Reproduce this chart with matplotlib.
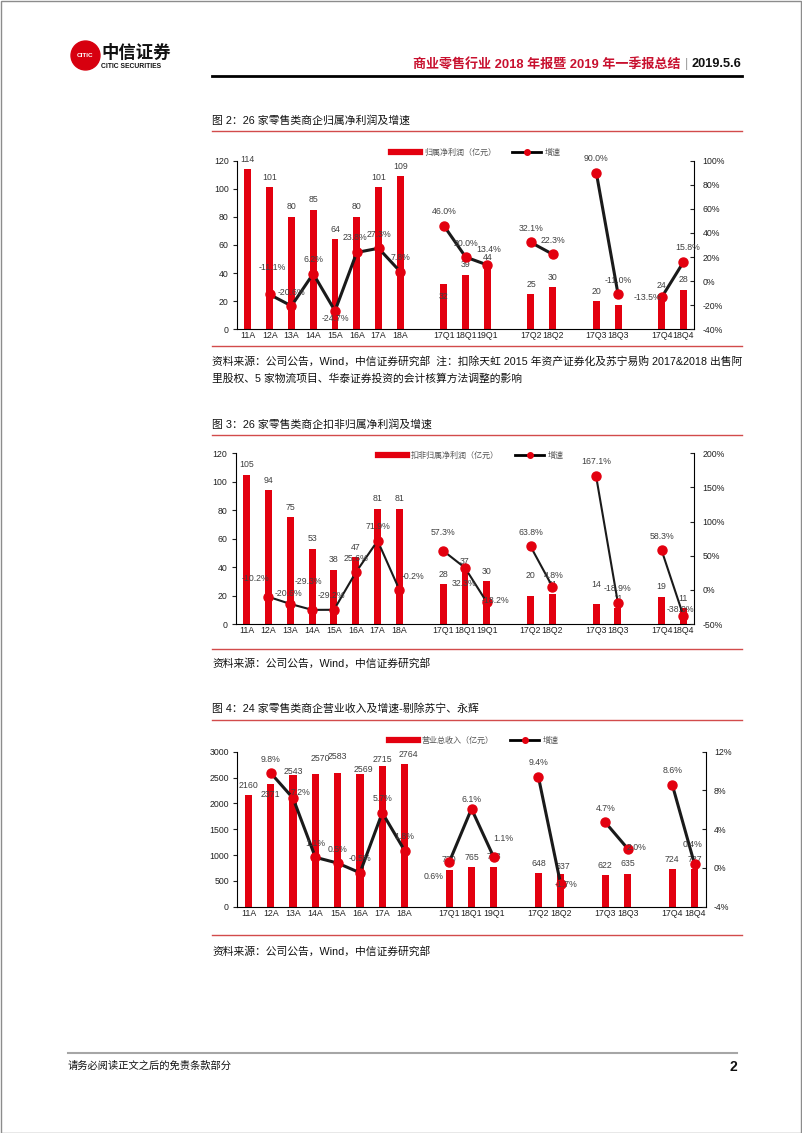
import matplotlib
matplotlib.use('Agg')
import matplotlib.pyplot as plt
import numpy as np
from matplotlib.lines import Line2D
from matplotlib.patches import Circle, Rectangle

plt.rcParams['font.family'] = ['Liberation Sans', 'Noto Sans CJK SC', 'DejaVu Sans']

W, H = 802, 1133
RED = '#E3000F'
LINE_RED = '#D24B4B'
LABEL_C = '#404040'
CJK = ['Noto Sans CJK SC', 'DejaVu Sans']

# ---- data ----
categories = ['11A', '12A', '13A', '14A', '15A', '16A', '17A', '18A',
              '17Q1', '18Q1', '19Q1', '17Q2', '18Q2', '17Q3', '18Q3', '17Q4', '18Q4']

profit = [114, 101, 80, 85, 64, 80, 101, 109, 32, 39, 44, 25, 30, 20, 17, 24, 28]
profit_growth = [np.nan, -11.1, -20.6, 6.2, -24.7, 23.8, 27.3, 7.8,
                 46.0, 20.0, 13.4, 32.1, 22.3, 90.0, -11.0, -13.5, 15.8]

core_profit = [105, 94, 75, 53, 38, 47, 81, 81, 28, 37, 30, 20, 21, 14, 11, 19, 11]
core_growth = [np.nan, -10.2, -20.6, -29.3, -29.2, 25.6, 71.9, -0.2,
               57.3, 32.3, -18.2, 63.8, 4.8, 167.1, -18.9, 58.3, -38.0]

revenue = [2160, 2371, 2543, 2570, 2583, 2569, 2715, 2764, 720, 765, 773, 648, 637, 622, 635, 724, 727]
revenue_growth = [np.nan, 9.8, 7.2, 1.1, 0.5, -0.5, 5.7, 1.8,
                  0.6, 6.1, 1.1, 9.4, -1.7, 4.7, 2.0, 8.6, 0.4]


def fx(x):
    return x / W


def fy(y):
    return 1 - y / H


def group_of(c):
    return c[2:] if 'Q' in c else 'A'


def slot_positions(cats):
    # one empty slot between groups (annual, Q1, Q2, Q3, Q4)
    pos, x, prev = [], 0, None
    for c in cats:
        g = group_of(c)
        if prev is not None and g != prev:
            x += 1
        pos.append(x)
        x += 1
        prev = g
    return np.array(pos, dtype=float)


fig = plt.figure(figsize=(W / 100, H / 100), dpi=100)


def hline(y, x0, x1, color, lw):
    fig.add_artist(Line2D([fx(x0), fx(x1)], [fy(y), fy(y)], color=color, lw=lw))


def draw_chart(box, values, growth, bar_name, ylim, yticks, rlim, rticks,
               legend_xy, lw, bar_nudge, growth_nudge):
    left, top, right, bottom = box
    ax = fig.add_axes([fx(left), fy(bottom), (right - left) / W, (bottom - top) / H])
    x = slot_positions(categories)
    vals = np.array(values, dtype=float)
    gr = np.array(growth, dtype=float)

    ax.bar(x, vals, width=0.32, color=RED, zorder=2)
    ax.set_xlim(-0.5, x.max() + 0.5)
    ax.set_ylim(*ylim)
    ax.set_yticks(yticks)
    ax.set_xticks(x)
    ax.set_xticklabels(categories)
    ax.tick_params(axis='x', length=0, pad=1.5, labelsize=6.3, colors='#222222')
    ax.tick_params(axis='y', length=3, width=0.8, pad=3, labelsize=6.3, colors='#222222', direction='out')
    for s in ['top', 'right']:
        ax.spines[s].set_visible(False)
    for s in ['left', 'bottom']:
        ax.spines[s].set_linewidth(0.8)
        ax.spines[s].set_color('black')

    ax2 = ax.twinx()
    ax2.set_ylim(*rlim)
    ax2.set_yticks(rticks)
    ax2.set_yticklabels([f'{int(v)}%' for v in rticks])
    ax2.tick_params(axis='y', length=3, width=0.8, pad=6, labelsize=6.3, colors='#222222', direction='in')
    for s in ['top', 'left', 'bottom']:
        ax2.spines[s].set_visible(False)
    ax2.spines['right'].set_linewidth(0.8)
    ax2.spines['right'].set_color('black')

    groups = [group_of(c) for c in categories]
    for g in dict.fromkeys(groups):
        idx = [i for i, gg in enumerate(groups) if gg == g and not np.isnan(gr[i])]
        ax2.plot(x[idx], gr[idx], color='#1a1a1a', lw=lw, zorder=3)
        ax2.plot(x[idx], gr[idx], 'o', ms=6.5, color=RED, mec=RED, zorder=4)

    for i, c in enumerate(categories):
        dx, dy = bar_nudge.get(c, (0, 10))
        ax.annotate(f'{values[i]:g}', (x[i], vals[i]), xytext=(dx, dy), textcoords='offset pixels',
                    ha='center', va='center', fontsize=6.3, color=LABEL_C, zorder=5)
        if not np.isnan(gr[i]):
            dx, dy = growth_nudge.get(c, (0, 14))
            ax2.annotate(f'{gr[i]:.1f}%', (x[i], gr[i]), xytext=(dx, dy), textcoords='offset pixels',
                         ha='center', va='center', fontsize=6.3, color=LABEL_C, zorder=5)

    handles = [Line2D([0], [0], color=RED, lw=4.5),
               Line2D([0], [0], color='black', lw=2, marker='o', ms=4, mfc=RED, mec=RED)]
    fig.legend(handles, [bar_name, '增速'], loc='center',
               bbox_to_anchor=(fx(legend_xy[0]), fy(legend_xy[1])), ncol=2, frameon=False,
               prop={'family': CJK, 'size': 5.8}, labelcolor='#555555',
               handlelength=3.6, handletextpad=0.5, columnspacing=2.0, borderpad=0)
    return ax


# ---- page header ----
page = Rectangle((0.5 / W, 0.5 / H), (W - 1.5) / W, (H - 1.5) / H, transform=fig.transFigure,
                 fill=False, ec='#8c8c8c', lw=1)
fig.add_artist(page)

logo = fig.add_axes([fx(70), fy(71), 31 / W, 31 / H])
logo.set_xlim(0, 30)
logo.set_ylim(0, 30)
logo.set_aspect('equal')
logo.axis('off')
logo.add_patch(Circle((15, 15), 14, color='#D7000F'))
logo.text(15, 15, 'CITIC', color='white', fontsize=4.6, fontweight='bold', ha='center', va='center')
fig.text(fx(101), fy(53), '中信证券', fontsize=12.5, fontweight='bold', family=CJK, va='center', color='#111111')
fig.text(fx(101), fy(67), 'CITIC SECURITIES', fontsize=4.9, fontweight='bold', va='center', color='#111111')

fig.text(fx(741), fy(64), '2019.5.6', fontsize=9.2, fontweight='bold', ha='right', va='center', color='#111111')
fig.text(fx(686), fy(64), '|', fontsize=9, ha='center', va='center', color='#999999')
fig.text(fx(680), fy(64), '商业零售行业 2018 年报暨 2019 年一季报总结', fontsize=9.4, fontweight='bold',
         ha='right', va='center', color='#C8102E')
hline(76, 212, 742, 'black', 2)

# ---- figure 2 ----
fig.text(fx(212), fy(120), '图 2：26 家零售类商企归属净利润及增速', fontsize=7.8, va='center', color='#111111')
hline(131, 212, 742, LINE_RED, 1)
draw_chart((237, 160.7, 694.3, 329.3), profit, profit_growth, '归属净利润（亿元）',
           (0, 120), range(0, 121, 20), (-40, 100), range(-40, 101, 20), (476, 152), 2.2,
           {'17Q1': (0, -12)},
           {'12A': (3, 27), '13A': (0, 13), '15A': (0, -8), '16A': (-2, 15), '17Q4': (-14, 0),
            '18Q4': (4, 15), '19Q1': (1, 15)})
hline(346, 212, 742, LINE_RED, 1)
fig.text(fx(212), fy(361), '资料来源：公司公告，Wind，中信证券研究部  注：扣除天虹 2015 年资产证券化及苏宁易购 2017&2018 出售阿',
         fontsize=7.75, va='center', color='#111111')
fig.text(fx(212), fy(379), '里股权、5 家物流项目、华泰证券投资的会计核算方法调整的影响',
         fontsize=7.75, va='center', color='#111111')

# ---- figure 3 ----
fig.text(fx(212), fy(424), '图 3：26 家零售类商企扣非归属净利润及增速', fontsize=7.8, va='center', color='#111111')
hline(435, 212, 742, LINE_RED, 1)
draw_chart((235.7, 453.3, 694.3, 624), core_profit, core_growth, '扣非归属净利润（亿元）',
           (0, 120), range(0, 121, 20), (-50, 200), range(-50, 201, 50), (471, 455), 1.5,
           {'17Q2': (0, 20), '17Q3': (0, 20)},
           {'12A': (-13, 18), '13A': (-2, 10), '14A': (-4, 28), '15A': (-3, 14), '18A': (13, 13),
            '17Q1': (0, 18), '18Q1': (-1, -16), '19Q1': (9, 2), '18Q2': (1, 11), '18Q4': (-3, 6)})
hline(649, 212, 742, LINE_RED, 1)
fig.text(fx(212), fy(663), '资料来源：公司公告，Wind，中信证券研究部', fontsize=7.75, va='center', color='#111111')

# ---- figure 4 ----
fig.text(fx(212), fy(708), '图 4：24 家零售类商企营业收入及增速-剔除苏宁、永辉', fontsize=7.8, va='center', color='#111111')
hline(720, 212, 742, LINE_RED, 1)
draw_chart((237.3, 751.7, 705.7, 906.7), revenue, revenue_growth, '营业总收入（亿元）',
           (0, 3000), range(0, 3001, 500), (-4, 12), range(-4, 13, 4), (474, 740), 2.2,
           {'12A': (0, -10), '13A': (0, 4), '14A': (5, 15), '15A': (0, 17), '16A': (3, 4),
            '17A': (0, 7), '18A': (4, 9), '18Q2': (2, 7), '17Q3': (0, 9)},
           {'13A': (7, 6), '17Q1': (-16, -14), '18Q1': (0, 9), '19Q1': (9, 19), '18Q2': (5, 0),
            '18Q3': (9, 1), '18Q4': (-2, 20)})
hline(935, 212, 742, LINE_RED, 1)
fig.text(fx(212), fy(951), '资料来源：公司公告，Wind，中信证券研究部', fontsize=7.75, va='center', color='#111111')

# ---- footer ----
hline(1053, 68, 737, '#a6a6a6', 1.5)
fig.text(fx(68), fy(1066), '请务必阅读正文之后的免责条款部分', fontsize=7.4, va='center', color='#111111')
fig.text(fx(737), fy(1067), '2', fontsize=10, fontweight='bold', ha='right', va='center', color='#111111')

fig.savefig('out.png', dpi=100)
